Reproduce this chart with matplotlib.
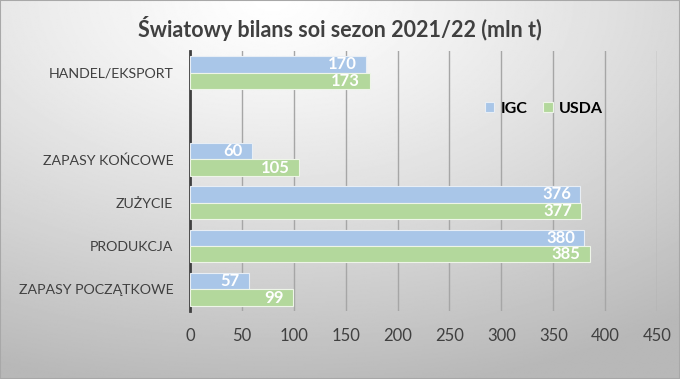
import numpy as np
import matplotlib
matplotlib.use("Agg")
import matplotlib.pyplot as plt

plt.rcParams['font.family'] = ['Lato', 'DejaVu Sans']

categories = ['ZAPASY POCZĄTKOWE', 'PRODUKCJA', 'ZUŻYCIE', 'ZAPASY KOŃCOWE', '', 'HANDEL/EKSPORT']
igc = [57, 380, 376, 60, None, 170]
usda = [99, 385, 377, 105, None, 173]
xticks = [0, 50, 100, 150, 200, 250, 300, 350, 400, 450]

fig = plt.figure(figsize=(6.8, 3.79), dpi=100)

# gradient background
bg = fig.add_axes([0, 0, 1, 1], zorder=0)
yy, xx = np.mgrid[0:1:300j, 0:1:600j]
r = np.sqrt(((xx - 0.4) / 1.0) ** 2 + ((yy - 0.0) / 1.05) ** 2)
bg.imshow(1 - 0.28 * np.clip(r, 0, 1) ** 1.2, cmap='gray', vmin=0, vmax=1,
          extent=[0, 1, 0, 1], origin='upper', aspect='auto')
bg.set_xlim(0, 1); bg.set_ylim(0, 1)
bg.set_xticks([]); bg.set_yticks([])
for s in bg.spines.values():
    s.set_color('#a8a8a8')
    s.set_linewidth(1.5)

ax = fig.add_axes([190 / 680, 1 - 311 / 379, 467 / 680, 260 / 379], zorder=1)
ax.patch.set_alpha(0)

y = np.arange(len(categories))
h = 0.38
blue = '#a9c6e8'
green = '#b3d89c'
for i in range(len(categories)):
    if igc[i] is None:
        continue
    ax.barh(y[i] + h / 2, igc[i], height=h, color=blue, edgecolor='#e8eef5', linewidth=0.8, zorder=3,
            label='IGC' if i == 0 else None)
    ax.barh(y[i] - h / 2, usda[i], height=h, color=green, edgecolor='#eef5e8', linewidth=0.8, zorder=3,
            label='USDA' if i == 0 else None)
    ax.text(igc[i] - 9, y[i] + h / 2, str(igc[i]), color='white', fontweight='bold',
            fontsize=12, ha='right', va='center', zorder=4)
    ax.text(usda[i] - 9, y[i] - h / 2, str(usda[i]), color='white', fontweight='bold',
            fontsize=12, ha='right', va='center', zorder=4)

ax.set_xlim(0, 450)
ax.set_ylim(-0.5, len(categories) - 0.5)
ax.set_xticks(xticks)
ax.set_yticks(y)
ax.set_yticklabels(categories)
ax.grid(axis='x', color='#a6a6a6', linewidth=1, zorder=0)
ax.set_axisbelow(True)
for s in ['top', 'right', 'bottom']:
    ax.spines[s].set_visible(False)
ax.spines['left'].set_color('#404040')
ax.spines['left'].set_linewidth(2)
ax.tick_params(axis='both', length=0, labelcolor='#404040')
ax.tick_params(axis='x', pad=12, labelsize=12)
ax.tick_params(axis='y', pad=12, labelsize=10.2)

leg = ax.legend(loc='upper left', bbox_to_anchor=(0.6, 0.86), ncol=2, frameon=False,
                prop={'weight': 'bold', 'size': 11.5}, handlelength=0.6, handleheight=0.6,
                handletextpad=0.4, columnspacing=1.0)

fig.text(0.5, 0.925, 'Światowy bilans soi sezon 2021/22 (mln t)', ha='center', va='center',
         fontsize=15.5, fontweight='bold', color='#404040')

fig.savefig('out.png', dpi=100)
